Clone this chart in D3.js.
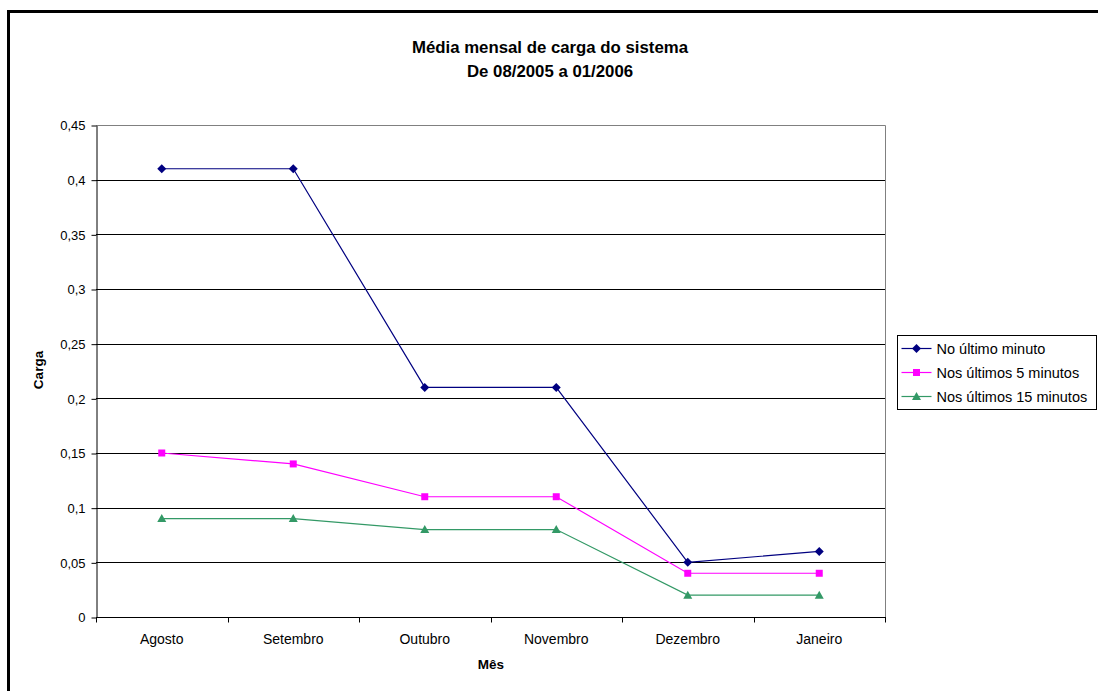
<!DOCTYPE html>
<html>
<head>
<meta charset="utf-8">
<script src="https://cdn.jsdelivr.net/npm/d3@7"></script>
<style>
  body { margin: 0; background: #fff; }
  svg { display: block; font-family: "Liberation Sans", Arial, sans-serif; }
</style>
</head>
<body>
<svg id="chart" width="1098" height="691"></svg>
<script>
// Monthly system load averages, 08/2005 – 01/2006
const months = ["Agosto", "Setembro", "Outubro", "Novembro", "Dezembro", "Janeiro"];
const load1  = [0.41, 0.41, 0.21, 0.21, 0.05, 0.06];
const load5  = [0.15, 0.14, 0.11, 0.11, 0.04, 0.04];
const load15 = [0.09, 0.09, 0.08, 0.08, 0.02, 0.02];
const yTicks = [0, 0.05, 0.1, 0.15, 0.2, 0.25, 0.3, 0.35, 0.4, 0.45];
const seriesNames = ["No último minuto", "Nos últimos 5 minutos", "Nos últimos 15 minutos"];

// Marker shapes: square diamond, square, triangle
const diamond = "M0,-4.5L4.5,0L0,4.5L-4.5,0Z";
const square = "M-3.5,-3.5H3.5V3.5H-3.5Z";
const triangle = "M0,-4.5L4.5,3.5H-4.5Z";

const series = [
  { name: seriesNames[0], values: load1,  color: "#000080", marker: diamond },
  { name: seriesNames[1], values: load5,  color: "#FF00FF", marker: square },
  { name: seriesNames[2], values: load15, color: "#339966", marker: triangle }
];

const svg = d3.select("#chart");
const fmt = v => String(v).replace(".", ",");

// Chart frame (thick black border running off the right and bottom edges)
svg.append("rect")
  .attr("x", 8.5).attr("y", 11.5)
  .attr("width", 1200).attr("height", 800)
  .attr("fill", "none").attr("stroke", "#000").attr("stroke-width", 3);

const plot = { left: 96, top: 125, right: 885, bottom: 617 };

const x = d3.scaleBand().domain(months).range([plot.left, plot.right]).padding(0);
const y = d3.scaleLinear().domain([0, 0.45]).range([plot.bottom, plot.top]);

// Horizontal gridlines
svg.append("g").selectAll("line")
  .data(yTicks.filter(t => t > 0))
  .join("line")
  .attr("x1", plot.left).attr("x2", plot.right)
  .attr("y1", d => Math.round(y(d)) + 0.5).attr("y2", d => Math.round(y(d)) + 0.5)
  .attr("stroke", "#000").attr("stroke-width", 1);

// Plot area border (right and top)
svg.append("path")
  .attr("d", `M${plot.left},${plot.top + 0.5}H${plot.right + 0.5}V${plot.bottom}`)
  .attr("fill", "none").attr("stroke", "#808080").attr("stroke-width", 1);

// Y axis
const yAxis = svg.append("g")
  .attr("transform", `translate(${plot.left + 0.5},0.5)`)
  .call(d3.axisLeft(y).tickValues(yTicks).tickFormat(fmt).tickSize(5).tickSizeOuter(0));
yAxis.select(".domain").attr("stroke", "#000");
yAxis.selectAll(".tick line").attr("stroke", "#000");
yAxis.selectAll("text").attr("font-size", 13).attr("font-family", "Liberation Sans, Arial, sans-serif")
  .attr("fill", "#000").attr("x", -11);

// X axis with ticks at category boundaries
const xg = svg.append("g").attr("transform", `translate(0,${plot.bottom + 0.5})`);
xg.append("line").attr("x1", plot.left).attr("x2", plot.right + 1).attr("stroke", "#000");
const bounds = months.map(m => x(m)).concat([plot.right]);
xg.selectAll(".bt").data(bounds).join("line")
  .attr("x1", d => Math.round(d) + 0.5).attr("x2", d => Math.round(d) + 0.5)
  .attr("y1", 0).attr("y2", 5).attr("stroke", "#000");
xg.selectAll("text").data(months).join("text")
  .attr("x", d => x(d) + x.bandwidth() / 2)
  .attr("y", 26)
  .attr("text-anchor", "middle")
  .attr("font-size", 14)
  .text(d => d);

// Series lines and markers
const line = d3.line()
  .x((d, i) => x(months[i]) + x.bandwidth() / 2)
  .y(d => y(d));

series.forEach(s => {
  svg.append("path")
    .datum(s.values)
    .attr("d", line)
    .attr("fill", "none")
    .attr("stroke", s.color)
    .attr("stroke-width", 1.2);
  svg.append("g").selectAll("path")
    .data(s.values)
    .join("path")
    .attr("transform", (d, i) => `translate(${x(months[i]) + x.bandwidth() / 2},${y(d)})`)
    .attr("d", s.marker)
    .attr("fill", s.color);
});

// Titles
svg.append("text").attr("x", 550).attr("y", 53).attr("text-anchor", "middle")
  .attr("font-size", 16.8).attr("font-weight", "bold").text("Média mensal de carga do sistema");
svg.append("text").attr("x", 550).attr("y", 77).attr("text-anchor", "middle")
  .attr("font-size", 16.8).attr("font-weight", "bold").text("De 08/2005 a 01/2006");

svg.append("text")
  .attr("transform", "translate(43,370) rotate(-90)")
  .attr("text-anchor", "middle")
  .attr("font-size", 13.5).attr("font-weight", "bold").text("Carga");

svg.append("text").attr("x", 491).attr("y", 669).attr("text-anchor", "middle")
  .attr("font-size", 13.5).attr("font-weight", "bold").text("Mês");

// Legend
const lg = svg.append("g").attr("transform", "translate(897.5,335.5)");
lg.append("rect").attr("width", 199).attr("height", 74)
  .attr("fill", "#fff").attr("stroke", "#000").attr("stroke-width", 1);
series.forEach((s, i) => {
  const cy = 13 + i * 24;
  lg.append("line").attr("x1", 4).attr("x2", 34).attr("y1", cy).attr("y2", cy)
    .attr("stroke", s.color).attr("stroke-width", 1.2);
  lg.append("path").attr("transform", `translate(19,${cy})`)
    .attr("d", s.marker).attr("fill", s.color);
  lg.append("text").attr("x", 39).attr("y", cy + 5).attr("font-size", 14.5).text(s.name);
});
</script>
</body>
</html>
